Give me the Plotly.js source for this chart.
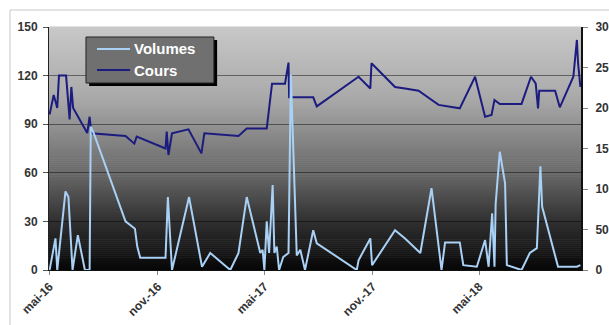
<!DOCTYPE html>
<html>
<head>
<meta charset="utf-8">
<script src="https://cdn.plot.ly/plotly-3.0.1.min.js"></script>
<style>html,body{margin:0;padding:0;background:#fff;}#chart{width:609px;height:325px;}</style>
</head>
<body>
<div id="chart"></div>
<script>
// Cours (left axis, 0-150)
const coursDates = ['2016-05-01','2016-05-08','2016-05-14','2016-05-17','2016-05-29','2016-06-04','2016-06-07','2016-06-10',
  '2016-07-04','2016-07-08','2016-07-11','2016-09-07','2016-09-22','2016-09-26','2016-11-14','2016-11-16','2016-11-19',
  '2016-11-25','2016-12-23','2017-01-14','2017-01-19','2017-03-18','2017-04-01','2017-05-05','2017-05-14','2017-06-05',
  '2017-06-11','2017-06-12','2017-07-23','2017-07-29','2017-10-08','2017-10-28','2017-10-30','2017-12-09','2017-12-26',
  '2018-01-18','2018-02-21','2018-03-29','2018-04-24','2018-05-11','2018-05-22','2018-05-27','2018-06-05','2018-07-12',
  '2018-07-28','2018-08-05','2018-08-09','2018-08-11','2018-09-07','2018-09-15','2018-10-08','2018-10-14','2018-10-16','2018-10-20'];
const coursValues = [96,108,100,120,120,93,113,100,
  84.5,94.6,84.4,82.7,78,82.3,75,85.4,71,
  84.4,86.8,72,84.4,82.7,87.4,87.4,115,115,
  128,106.6,106.6,101,119.3,112,127.6,113,112,
  110.7,101.9,99.8,119.3,94.6,95.7,105,102.5,102.5,
  119.3,115.2,99.8,110.7,110.7,100.4,119.3,142,127.6,113];

// Volumes (right axis, 0-300)
const volDates = ['2016-05-01','2016-05-11','2016-05-14','2016-05-28','2016-06-02','2016-06-09','2016-06-18','2016-06-30',
  '2016-07-08','2016-07-10','2016-07-15','2016-09-07','2016-09-23','2016-09-27','2016-10-02','2016-11-14','2016-11-18',
  '2016-11-25','2016-12-24','2017-01-15','2017-01-29','2017-03-04','2017-03-18','2017-04-01','2017-04-24','2017-04-28',
  '2017-05-01','2017-05-05','2017-05-09','2017-05-15','2017-05-18','2017-05-22','2017-05-26','2017-06-02','2017-06-11',
  '2017-06-15','2017-06-25','2017-07-01','2017-07-09','2017-07-23','2017-07-29','2017-10-05','2017-10-08','2017-10-28',
  '2017-10-31','2017-12-09','2017-12-26','2018-01-21','2018-02-09','2018-02-26','2018-03-04','2018-03-29','2018-04-04',
  '2018-04-27','2018-05-11','2018-05-17','2018-05-23','2018-05-27','2018-05-29','2018-06-05','2018-06-14','2018-06-17',
  '2018-07-12','2018-07-26','2018-08-07','2018-08-13','2018-08-16','2018-09-12','2018-10-14','2018-10-20'];
const volValues = [0,39,0,97,90,0,43,0,
  0,177,169,60,51,29,15,15,90,
  0,90,4,21,0,21,90,21,25,
  0,60,21,105,21,29,0,16,21,
  241,18,25,0,49,33,0,12,39,
  6,49,39,21,101,0,34,34,6,
  4,37,4,70,4,82,146,107,6,
  0,21,27,128,78,4,4,6];

const seriesNames = ['Volumes','Cours'];
const seriesColors = ['#a9d0f5','#1c1c80'];
const tickDates = ['2016-05-01','2016-11-01','2017-05-01','2017-11-01','2018-05-01'];
const tickLabels = ['mai-16','nov.-16','mai-17','nov.-17','mai-18'];
const leftTicks = [0,30,60,90,120,150];
const rightTicks = [0,50,100,150,200,250,300];

// background gradient (style only)
const stops = [[0,6],[0.2,48],[0.4,105],[0.7,168],[1,200]];
function shade(t){
  for(let i=0;i<stops.length-1;i++){
    const a=stops[i], b=stops[i+1];
    if(t>=a[0] && t<=b[0]){ return Math.round(a[1]+(b[1]-a[1])*(t-a[0])/(b[0]-a[0])); }
  }
  return 200;
}
const shapes = [];
const N = 120;
for(let i=0;i<N;i++){
  const g = shade((i+0.5)/N);
  shapes.push({type:'rect',xref:'paper',yref:'paper',x0:0,x1:1,y0:i/N,y1:(i+1)/N+0.002,
    fillcolor:'rgb('+g+','+g+','+g+')',line:{width:0},layer:'below'});
}
// outer chart frame
shapes.push({type:'rect',xref:'paper',yref:'paper',x0:-0.0733,x1:1.2,y0:-0.5,y1:1.07,
  line:{color:'#c8c8c8',width:1},fillcolor:'rgba(0,0,0,0)',layer:'below'});

// legend box (drawn manually to match the compact Excel legend)
const lx0 = 0.0695, lx1 = 0.310, ly0 = 0.7695, ly1 = 0.9588;
shapes.push({type:'rect',xref:'paper',yref:'paper',x0:lx0+0.006,x1:lx1+0.006,y0:ly0-0.012,y1:ly1-0.012,
  fillcolor:'#000000',line:{width:0},layer:'above'});
shapes.push({type:'rect',xref:'paper',yref:'paper',x0:lx0,x1:lx1,y0:ly0,y1:ly1,
  fillcolor:'#707070',line:{color:'#222222',width:1},layer:'above'});
const legendY = [0.9095, 0.823];
const annotations = [];
seriesNames.forEach((nm,i)=>{
  shapes.push({type:'line',xref:'paper',yref:'paper',x0:0.0902,x1:0.1523,y0:legendY[i],y1:legendY[i],
    line:{color:seriesColors[i],width:2},layer:'above'});
  annotations.push({xref:'paper',yref:'paper',x:0.156,y:legendY[i],xanchor:'left',yanchor:'middle',showarrow:false,
    text:nm,font:{family:'"Liberation Sans", Arial, sans-serif',size:15,color:'#ffffff',weight:'bold'}});
});

const font = {family:'"Liberation Sans", Arial, sans-serif', size:12, color:'#333333', weight:'bold'};

const traces = [
  {x:volDates, y:volValues, name:seriesNames[0], type:'scatter', mode:'lines', yaxis:'y2',
   line:{color:seriesColors[0], width:2}},
  {x:coursDates, y:coursValues, name:seriesNames[1], type:'scatter', mode:'lines', yaxis:'y',
   line:{color:seriesColors[1], width:2}}
];

const layout = {
  width:609, height:325,
  margin:{l:49, r:28, t:27, b:55},
  paper_bgcolor:'#ffffff',
  plot_bgcolor:'#c8c8c8',
  font: font,
  showlegend:false,
  xaxis:{type:'date', range:['2016-04-30','2018-10-21'], tickvals:tickDates, ticktext:tickLabels,
    tickangle:-45, ticks:'outside', ticklen:4, tickcolor:'#888', showgrid:false, zeroline:false,
    showline:true, linecolor:'#111', linewidth:1, tickfont:font},
  yaxis:{range:[0,150], tickvals:leftTicks, ticks:'outside', ticklen:5, tickcolor:'#555',
    showgrid:true, gridcolor:'rgba(0,0,0,0.45)', gridwidth:1, zeroline:false, showline:true, linecolor:'#222', linewidth:1,
    tickfont:font, ticklabelstandoff:3},
  yaxis2:{range:[0,300], tickvals:rightTicks, overlaying:'y', side:'right', ticks:'outside', ticklen:5, tickcolor:'#888',
    showgrid:false, zeroline:false, showline:true, linecolor:'#111', linewidth:2, tickfont:font, ticklabelstandoff:5},
  shapes: shapes,
  annotations: annotations
};
Plotly.newPlot('chart', traces, layout, {displayModeBar:false, staticPlot:true});
</script>
</body>
</html>
